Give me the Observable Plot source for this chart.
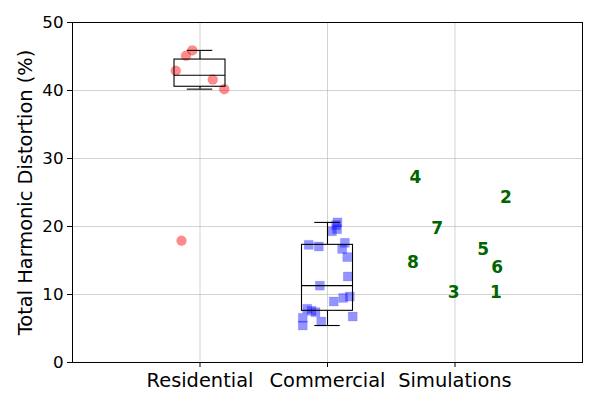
<!DOCTYPE html>
<html><head><meta charset="utf-8">
<script src="https://cdn.jsdelivr.net/npm/d3@7"></script>
<script src="https://cdn.jsdelivr.net/npm/@observablehq/plot@0.6"></script>
<style>body{margin:0;background:#fff;} svg{display:block;}</style>
</head><body><div id="chart"></div>
<script>
const categories = ["Residential", "Commercial", "Simulations"];
const positions = [1, 2, 3];
const yTicks = [0, 10, 20, 30, 40, 50];
const yLabel = "Total Harmonic Distortion (%)";

const resX = [0.94, 0.89, 0.81, 1.10, 1.19, 0.855];
const resY = [45.9, 45.1, 42.9, 41.6, 40.2, 17.9];

const comX = [2.078, 2.067, 2.075, 2.035, 1.853, 1.932, 2.136, 2.115, 2.155, 2.159, 1.940,
              2.049, 2.123, 2.175, 1.841, 1.875, 1.906, 1.806, 1.806, 1.951, 2.198];
const comY = [20.6, 20.2, 19.6, 19.3, 17.3, 17.06, 17.6, 16.7, 15.5, 12.65, 11.3,
              8.97, 9.5, 9.7, 7.9, 7.6, 7.4, 6.57, 5.44, 6.03, 6.76];

const simLabels = ["1", "2", "3", "4", "5", "6", "7", "8"];
const simX = [3.32, 3.40, 2.99, 2.69, 3.22, 3.33, 2.86, 2.67];
const simY = [10.25, 24.3, 10.35, 27.25, 16.6, 13.9, 19.65, 14.75];

const res = resX.map((x, i) => ({x, y: resY[i]}));
const com = comX.map((x, i) => ({x, y: comY[i]}));
const sim = simX.map((x, i) => ({x, y: simY[i], t: simLabels[i]}));

function stats(values, pos) {
  const v = values.slice().sort(d3.ascending);
  const q1 = d3.quantile(v, 0.25), med = d3.quantile(v, 0.5), q3 = d3.quantile(v, 0.75);
  const iqr = q3 - q1;
  const lo = d3.min(v.filter(d => d >= q1 - 1.5 * iqr));
  const hi = d3.max(v.filter(d => d <= q3 + 1.5 * iqr));
  return {pos, q1, med, q3, lo, hi};
}
const boxes = [stats(resY, positions[0]), stats(comY, positions[1])];
const bw = 0.2, cw = 0.1;

const font = "DejaVu Sans";
const chart = Plot.plot({
  width: 600, height: 401,
  marginLeft: 72, marginRight: 18, marginTop: 22, marginBottom: 39,
  style: {fontFamily: font, background: "#fff", color: "black"},
  x: {type: "linear", domain: [0, 4]},
  y: {domain: [0, 50]},
  marks: [
    Plot.gridX(positions, {stroke: "#b0b0b0", strokeOpacity: 0.7, strokeWidth: 0.8}),
    Plot.gridY(yTicks, {stroke: "#b0b0b0", strokeOpacity: 0.7, strokeWidth: 0.8}),
    Plot.dot(res, {x: "x", y: "y", r: 5, fill: "red", fillOpacity: 0.45, stroke: "red", strokeOpacity: 0.2, strokeWidth: 0.5}),
    Plot.dot(com, {x: "x", y: "y", r: 5.1, symbol: "square", fill: "blue", fillOpacity: 0.42, stroke: "blue", strokeOpacity: 0.2, strokeWidth: 0.5}),
    Plot.rect(boxes, {x1: d => d.pos - bw, x2: d => d.pos + bw, y1: "q1", y2: "q3", fill: "none", stroke: "black", strokeWidth: 1.1}),
    Plot.ruleY(boxes, {y: "med", x1: d => d.pos - bw, x2: d => d.pos + bw, stroke: "black", strokeWidth: 1.1}),
    Plot.ruleX(boxes, {x: "pos", y1: "q3", y2: "hi", stroke: "black", strokeWidth: 1.1}),
    Plot.ruleX(boxes, {x: "pos", y1: "q1", y2: "lo", stroke: "black", strokeWidth: 1.1}),
    Plot.ruleY(boxes, {y: "hi", x1: d => d.pos - cw, x2: d => d.pos + cw, stroke: "black", strokeWidth: 1.1}),
    Plot.ruleY(boxes, {y: "lo", x1: d => d.pos - cw, x2: d => d.pos + cw, stroke: "black", strokeWidth: 1.1}),
    Plot.text(sim, {x: "x", y: "y", text: "t", fill: "#006400", fontWeight: "bold", fontSize: 17, fontFamily: font}),
    Plot.frame({stroke: "black", strokeWidth: 1}),
    Plot.axisX({ticks: positions, tickFormat: d => categories[d - 1], label: null, tickSize: 5, tickPadding: 6, fontSize: 19.4, fontFamily: font}),
    Plot.axisY({ticks: yTicks, label: null, tickSize: 5, tickPadding: 4, fontSize: 16.7, fontFamily: font}),
    Plot.text([yLabel], {frameAnchor: "left", dx: -47, rotate: -90, textAnchor: "middle", lineAnchor: "middle", fontSize: 19.4, fontFamily: font, fill: "black"})
  ]
});
document.getElementById("chart").appendChild(chart);
</script>
</body></html>
